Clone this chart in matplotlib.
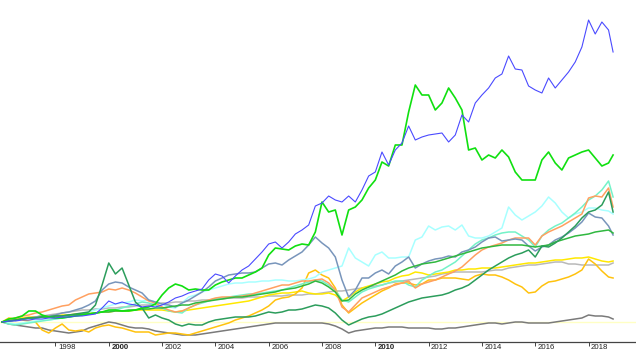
"""
Cumulative growth of several funds 1996-2018, drawn as plain lines with a
bare year axis (no y axis), like a small web widget chart.
"""
import numpy as np
import matplotlib.pyplot as plt
from matplotlib.transforms import ScaledTranslation

# Data ------------------------------------------------------------------------

# quarterly dates, last point is the end of the series (late 2018)
dates = np.append(np.arange(1996.0, 2018.76, 0.25), 2018.92)

# cumulative return in %
blue = [0, 5, 5, 10, 10, 15, 15, 20, 20, 25,
        25, 30, 30, 35, 40, 70, 105, 90, 100, 90,
        85, 75, 80, 75, 85, 100, 120, 130, 145, 155,
        165, 210, 240, 230, 195, 230, 260, 280, 315, 350,
        390, 400, 370, 400, 440, 460, 485, 580, 595, 630,
        610, 600, 630, 600, 660, 730, 750, 850, 785, 860,
        895, 980, 910, 925, 935, 940, 945, 900, 935, 1035,
        1000, 1095, 1135, 1170, 1220, 1240, 1330, 1265, 1260, 1180,
        1160, 1145, 1220, 1170, 1210, 1250, 1300, 1375, 1510, 1440,
        1500, 1460, 1350]

bright_green = [0, 15, 20, 30, 55, 55, 35, 25, 20, 20,
                25, 30, 35, 40, 45, 50, 60, 60, 55, 55,
                60, 70, 75, 90, 135, 170, 190, 180, 160, 165,
                160, 160, 185, 200, 210, 220, 220, 235, 250, 270,
                335, 370, 365, 360, 380, 390, 385, 450, 600, 550,
                560, 435, 560, 575, 610, 670, 710, 800, 780, 885,
                885, 1050, 1185, 1135, 1135, 1060, 1095, 1170, 1120, 1060,
                860, 870, 810, 835, 820, 860, 825, 750, 710, 710,
                710, 810, 850, 795, 760, 820, 835, 850, 860, 820,
                780, 795, 835]

sea_green = [0, 5, 10, 15, 20, 20, 25, 25, 30, 30,
             35, 40, 45, 50, 85, 185, 295, 240, 270, 185,
             100, 70, 20, 35, 20, 10, -10, -20, -10, -15,
             -15, 0, 10, 15, 20, 25, 25, 25, 30, 40,
             50, 45, 50, 60, 60, 65, 75, 85, 80, 70,
             45, 10, -15, 0, 15, 25, 30, 40, 55, 70,
             85, 100, 110, 120, 125, 130, 135, 145, 160, 170,
             185, 210, 235, 260, 280, 300, 320, 335, 345, 360,
             325, 380, 375, 395, 420, 450, 480, 520, 550, 560,
             585, 650, 550]

mid_green = [0, 5, 10, 15, 20, 20, 25, 25, 30, 30,
             35, 35, 40, 40, 45, 50, 50, 55, 55, 60,
             60, 65, 65, 70, 70, 75, 80, 85, 85, 95,
             100, 105, 110, 115, 120, 125, 125, 130, 135, 140,
             145, 150, 160, 165, 170, 180, 190, 205, 195, 175,
             150, 105, 110, 140, 160, 175, 190, 205, 220, 235,
             255, 270, 280, 290, 295, 300, 310, 320, 330, 340,
             350, 360, 370, 375, 380, 385, 385, 385, 385, 380,
             375, 380, 385, 400, 410, 420, 430, 435, 440, 450,
             455, 460, 445]

orange = [0, 10, 20, 30, 35, 45, 50, 60, 70, 80,
          85, 110, 125, 140, 145, 150, 165, 160, 170, 160,
          145, 125, 105, 95, 75, 60, 50, 55, 70, 85,
          100, 110, 120, 125, 125, 125, 130, 135, 145, 155,
          165, 175, 185, 185, 195, 205, 205, 210, 215, 195,
          160, 75, 50, 85, 120, 135, 150, 165, 175, 185,
          195, 205, 170, 190, 200, 210, 225, 240, 255, 275,
          305, 335, 360, 375, 385, 395, 410, 420, 420, 420,
          385, 430, 450, 465, 480, 500, 520, 540, 620, 630,
          625, 670, 575]

slate = [0, 5, 10, 15, 20, 25, 30, 30, 35, 45,
         50, 60, 70, 85, 105, 160, 190, 200, 195, 175,
         160, 145, 110, 100, 90, 85, 75, 95, 110, 130,
         150, 175, 205, 220, 235, 240, 245, 245, 250, 270,
         290, 295, 285, 310, 330, 350, 385, 425, 395, 370,
         325, 210, 125, 160, 220, 220, 245, 260, 240, 280,
         300, 325, 270, 290, 305, 315, 320, 330, 325, 350,
         360, 375, 400, 420, 425, 405, 410, 415, 410, 380,
         355, 375, 385, 410, 425, 445, 470, 500, 545, 525,
         520, 480, 435]

light_cyan = [0, -5, -10, -5, 0, 5, 10, 10, 15, 20,
              25, 30, 40, 50, 60, 70, 80, 90, 95, 100,
              110, 105, 110, 100, 90, 75, 70, 95, 125, 135,
              150, 160, 170, 180, 190, 195, 195, 200, 200, 205,
              205, 210, 210, 205, 205, 210, 215, 225, 250, 260,
              270, 280, 370, 320, 300, 280, 335, 350, 320, 320,
              325, 325, 410, 425, 480, 460, 475, 480, 460, 485,
              430, 420, 420, 430, 450, 470, 575, 535, 510, 530,
              550, 580, 625, 595, 550, 520, 540, 550, 570, 570,
              560, 555, 540]

aquamarine = [0, -10, -15, -10, -5, 0, 5, 10, 15, 20,
              25, 30, 35, 40, 45, 50, 55, 60, 70, 80,
              90, 100, 95, 85, 70, 55, 50, 45, 70, 85,
              95, 105, 115, 120, 125, 130, 135, 140, 140, 145,
              150, 155, 160, 170, 180, 190, 200, 210, 205, 185,
              160, 110, 100, 125, 150, 165, 175, 185, 195, 205,
              205, 185, 175, 210, 230, 250, 260, 280, 300, 330,
              360, 390, 410, 420, 435, 445, 450, 450, 430, 410,
              375, 430, 460, 480, 495, 520, 545, 575, 610, 630,
              660, 705, 625]

yellow = [0, 10, 20, 20, 25, 25, 30, 30, 30, 35,
          35, 40, 40, 45, 45, 50, 50, 55, 55, 55,
          60, 60, 60, 60, 60, 55, 50, 55, 60, 65,
          70, 75, 80, 85, 90, 95, 100, 105, 115, 125,
          135, 140, 145, 145, 150, 155, 145, 140, 140, 145,
          135, 105, 125, 150, 170, 180, 190, 200, 205, 220,
          230, 235, 250, 245, 235, 240, 245, 250, 260, 260,
          265, 265, 270, 270, 270, 275, 280, 285, 290, 295,
          295, 300, 305, 310, 310, 315, 320, 320, 325, 315,
          305, 300, 305]

gold = [0, 20, 15, 10, 5, 0, -40, -55, -30, -10,
        -40, -45, -40, -50, -30, -20, -15, -25, -30, -40,
        -50, -50, -50, -65, -60, -55, -55, -60, -65, -55,
        -45, -35, -25, -15, -5, 10, 20, 30, 45, 60,
        80, 110, 120, 125, 140, 170, 245, 260, 235, 220,
        170, 85, 45, 70, 95, 115, 135, 155, 170, 190,
        195, 195, 185, 190, 210, 210, 220, 220, 220, 215,
        210, 230, 240, 235, 235, 225, 210, 190, 175, 145,
        150, 180, 200, 205, 215, 225, 240, 260, 315, 290,
        255, 225, 220]

light_gray = [0, 5, 10, 15, 20, 25, 30, 35, 40, 45,
              50, 55, 60, 60, 65, 65, 70, 70, 75, 75,
              80, 85, 85, 90, 95, 95, 100, 100, 105, 105,
              110, 110, 115, 115, 120, 120, 120, 125, 125, 125,
              130, 130, 130, 135, 135, 135, 140, 140, 145, 150,
              155, 155, 160, 165, 170, 175, 180, 185, 195, 200,
              205, 210, 215, 220, 225, 230, 240, 245, 250, 250,
              250, 250, 250, 255, 260, 260, 270, 275, 280, 285,
              285, 290, 295, 300, 300, 290, 290, 285, 285, 285,
              285, 285, 295]

dark_gray = [0, -10, -15, -20, -25, -30, -30, -40, -45, -50,
             -55, -50, -45, -30, -20, -10, 0, -5, -15, -25,
             -30, -30, -35, -45, -50, -55, -60, -65, -65, -65,
             -60, -55, -50, -45, -40, -35, -30, -25, -20, -15,
             -10, -5, -5, -5, -5, -5, -5, -5, -5, -10,
             -20, -35, -55, -45, -40, -35, -30, -30, -25, -25,
             -25, -30, -30, -30, -30, -35, -35, -30, -30, -25,
             -20, -15, -10, -5, -5, -10, -5, 0, 0, -5,
             -5, -5, -5, 0, 5, 10, 15, 20, 35, 30,
             30, 25, 15]

year_ticks = list(range(1998, 2019, 2))
bold_years = [2000, 2010]

# Plot ------------------------------------------------------------------------

# (series, colour, width) in drawing order, last one on top
series = [
    (light_gray, "#b9b9b9", 1.1),
    (dark_gray, "#7a7a7a", 1.1),
    (yellow, "#ffe800", 1.1),
    (gold, "#ffc20e", 1.1),
    (light_cyan, "#a8ffff", 1.1),
    (aquamarine, "#74f2c8", 1.1),
    (orange, "#ffa060", 1.1),
    (slate, "#7895bb", 1.1),
    (mid_green, "#30b840", 1.1),
    (sea_green, "#2c9d5c", 1.1),
    (bright_green, "#10e010", 1.2),
    (blue, "#4a4aff", 0.8),
]

for values, _, _ in series:
    if len(values) != len(dates):
        raise ValueError("series length {} != {}".format(len(values), len(dates)))

fig = plt.figure(figsize=(6.36, 3.51), dpi=100)
ax = fig.add_axes([0, 9 / 351, 1, 342 / 351])

ax.axhline(0, color="#ffffc4", lw=1.0, zorder=0)
for values, colour, width in series:
    ax.plot(dates, values, color=colour, lw=width)

ax.set_xlim(1995.92, 2019.78)
ax.set_ylim(-100, 1610)

for side in ("left", "right", "top"):
    ax.spines[side].set_visible(False)
ax.spines["bottom"].set_color("#444444")
ax.spines["bottom"].set_linewidth(0.9)
ax.set_yticks([])

ax.set_xticks(year_ticks)
ax.set_xticklabels([str(y) for y in year_ticks])
ax.tick_params(axis="x", direction="out", length=3, width=0.7,
               color="#444444", pad=-1.6, labelsize=5.6,
               labelcolor="#222222")
shift = ScaledTranslation(0.025, 0, fig.dpi_scale_trans)
for year, label in zip(year_ticks, ax.get_xticklabels()):
    label.set_horizontalalignment("left")
    label.set_fontfamily("Liberation Sans")
    label.set_transform(label.get_transform() + shift)
    if year in bold_years:
        label.set_fontweight("bold")

fig.savefig("out.png", dpi=100)
